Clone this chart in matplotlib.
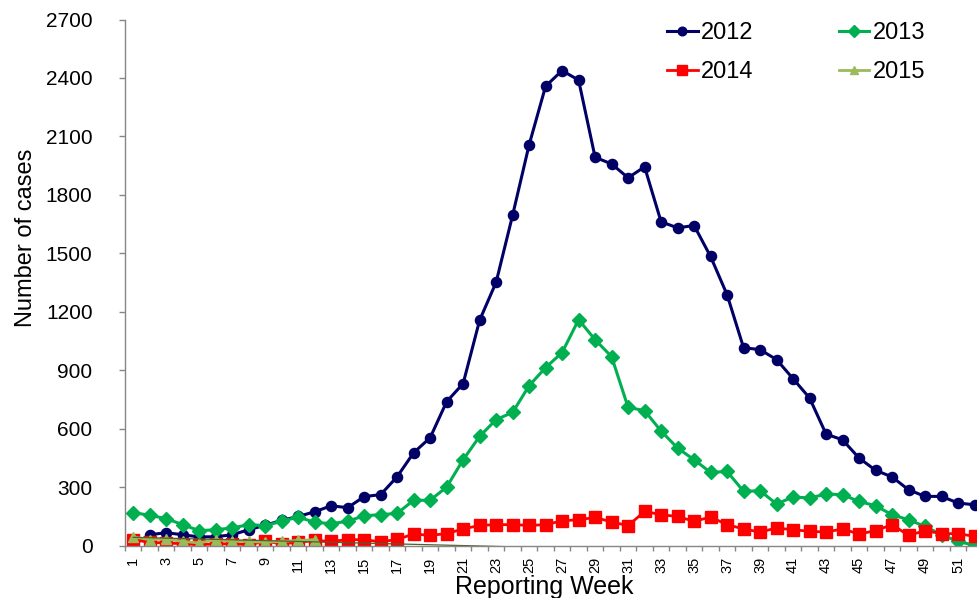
import matplotlib
matplotlib.use("Agg")
import matplotlib.pyplot as plt
import numpy as np

plt.rcParams['font.family'] = ['Liberation Sans', 'DejaVu Sans']

weeks = list(range(1, 53))
cases_2012 = [5, 56, 67, 56, 45, 46, 56, 82, 105, 130, 150, 174, 205, 195, 252, 262, 354,
              477, 554, 739, 832, 1157, 1352, 1696, 2057, 2358, 2438, 2389, 1993, 1959, 1888,
              1944, 1662, 1631, 1643, 1484, 1288, 1016, 1006, 955, 857, 758, 573, 543, 450,
              387, 353, 287, 253, 253, 219, 210]
cases_2013 = [170, 156, 139, 108, 77, 82, 91, 108, 103, 125, 147, 120, 113, 125, 154, 159, 166,
              233, 233, 301, 441, 561, 647, 684, 821, 914, 991, 1160, 1057, 970, 710,
              693, 588, 501, 441, 376, 381, 279, 282, 214, 250, 245, 265, 262, 227,
              205, 159, 133, 99, 56, 22, 2]
cases_2014 = [31, 17, 14, 10, 5, 9, 10, 5, 22, 10, 17, 27, 22, 31, 31, 20, 32,
              60, 53, 62, 86, 104, 108, 108, 104, 108, 128, 133, 145, 122, 103,
              176, 159, 150, 125, 147, 108, 86, 70, 91, 82, 74, 70, 86, 60,
              77, 108, 53, 77, 62, 62, 48]
weeks_2015 = list(range(1, 13))
cases_2015 = [45, 31, 34, 22, 14, 31, 22, 22, 17, 22, 27, 31]
trend_weeks = [1, 26]
trend_vals = [43, -10]

series_labels = ['2012', '2013', '2014', '2015']
yticks = list(range(0, 2701, 300))
xtick_weeks = list(range(1, 53, 2))

fig = plt.figure(figsize=(9.77, 5.98), dpi=100)
ax = fig.add_axes([0.1279, 0.08746, 0.878, 0.8799])

l12, = ax.plot(weeks, cases_2012, color='#000066', lw=2.2, marker='o', ms=7.3,
               label=series_labels[0])
l13, = ax.plot(weeks, cases_2013, color='#00B050', lw=2.2, marker='D', ms=7.5,
               label=series_labels[1])
l14, = ax.plot(weeks, cases_2014, color='#FF0000', lw=2.0, marker='s', ms=8.3,
               label=series_labels[2])
l15, = ax.plot(weeks_2015, cases_2015, color='#9BBB59', lw=2.0, marker='^', ms=7.5,
               label=series_labels[3])
ax.plot(trend_weeks, trend_vals, color='#4F5F2F', lw=0.9)

ax.set_xlim(0.5, 52.5)
ax.set_ylim(0, 2700)

ax.set_yticks(yticks)
ax.set_yticklabels([str(v) for v in yticks], fontsize=15)
ax.tick_params(axis='y', direction='out', length=4.3, width=1, color='#868686', pad=19)

ax.set_xticks(xtick_weeks)
ax.set_xticklabels([str(w) for w in xtick_weeks], rotation=90, fontsize=10.5)
ax.tick_params(axis='x', which='major', length=0, pad=8)
ax.set_xticks(np.arange(0.5, 53, 1), minor=True)
ax.tick_params(axis='x', which='minor', direction='out', length=3.6, width=1, color='#868686')

for s in ['top', 'right']:
    ax.spines[s].set_visible(False)
for s in ['left', 'bottom']:
    ax.spines[s].set_color('#868686')
    ax.spines[s].set_linewidth(1)

ax.set_ylabel('Number of cases', fontsize=17, va='center')
ax.yaxis.set_label_coords(-0.1154, 0.585)
ax.set_xlabel('Reporting Week', fontsize=18, va='top')
ax.xaxis.set_label_coords(0.4885, -0.0560)

leg = fig.legend([l12, l14, l13, l15],
                 [series_labels[0], series_labels[2], series_labels[1], series_labels[3]],
                 ncol=2, loc='center', bbox_to_anchor=(0.815, 0.9120),
                 bbox_transform=fig.transFigure, frameon=False, fontsize=17,
                 handlelength=1.3, handletextpad=0.15, columnspacing=3.6,
                 labelspacing=0.72, markerscale=0.85)

fig.savefig('out.png', dpi=100)
